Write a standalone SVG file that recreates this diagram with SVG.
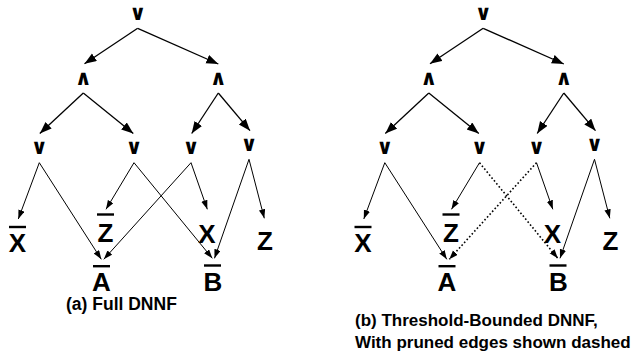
<svg xmlns="http://www.w3.org/2000/svg" width="631" height="356" viewBox="0 0 631 356">
  <style>
    .op { font-family: "DejaVu Sans", sans-serif; font-weight: bold; font-size: 21px; text-anchor: middle; fill: #000; }
    .lit { font-family: "Liberation Sans", Arial, sans-serif; font-weight: bold; font-size: 26px; text-anchor: middle; fill: #000; }
    .bar { stroke: #000; stroke-width: 2.4; }
    .cap { font-family: "Liberation Sans", Arial, sans-serif; font-weight: bold; fill: #000; }
    .e1 { stroke: #000; stroke-width: 1.3; fill: none; marker-end: url(#big); }
    .e2 { stroke: #000; stroke-width: 1; fill: none; marker-end: url(#small); }
    .ed { stroke: #000; stroke-width: 1.6; stroke-dasharray: 1.6 2.2; fill: none; marker-end: url(#small); }
  </style>
  <defs>
    <marker id="big" markerUnits="userSpaceOnUse" markerWidth="13" markerHeight="10" refX="12" refY="4.5" orient="auto">
      <path d="M0,0 L12,4.5 L0,9 z" fill="#000"/>
    </marker>
    <marker id="small" markerUnits="userSpaceOnUse" markerWidth="10" markerHeight="7" refX="9" refY="3.2" orient="auto">
      <path d="M0,0 L9,3.2 L0,6.4 z" fill="#000"/>
    </marker>
  </defs>

  <!-- Panel (a) -->
  <g id="panel-a">
    <g id="a-connectors">
      <line class="e1" x1="137.7" y1="28.3" x2="84.5" y2="63.8"/>
      <line class="e1" x1="137.7" y1="28.3" x2="218.3" y2="64"/>
      <line class="e1" x1="83.3" y1="93" x2="39.8" y2="133.5"/>
      <line class="e1" x1="83.3" y1="93" x2="133.3" y2="133.5"/>
      <line class="e1" x1="218.3" y1="93" x2="191.7" y2="133.5"/>
      <line class="e1" x1="218.3" y1="93" x2="250" y2="130.7"/>
      <line class="e2" x1="39.3" y1="162.7" x2="18.3" y2="219"/>
      <line class="e2" x1="39.3" y1="162.7" x2="101.3" y2="259.3"/>
      <line class="e2" x1="134" y1="162.7" x2="106" y2="209.3"/>
      <line class="e2" x1="134" y1="162.7" x2="212.3" y2="258.3"/>
      <line class="e2" x1="191" y1="162.7" x2="103.8" y2="259.3"/>
      <line class="e2" x1="191" y1="162.7" x2="207.3" y2="209.3"/>
      <line class="e2" x1="249" y1="159.3" x2="214.5" y2="258.3"/>
      <line class="e2" x1="249" y1="159.3" x2="264.3" y2="218.3"/>
    </g>
    <g id="a-root"><text class="op" x="137.7" y="20">∨</text></g>
    <g id="a-and1"><text class="op" x="83.3" y="84.5">∧</text></g>
    <g id="a-and2"><text class="op" x="218.3" y="84.5">∧</text></g>
    <g id="a-or1"><text class="op" x="39.3" y="154">∨</text></g>
    <g id="a-or2"><text class="op" x="134" y="154">∨</text></g>
    <g id="a-or3"><text class="op" x="191" y="154">∨</text></g>
    <g id="a-or4"><text class="op" x="249" y="150.7">∨</text></g>
    <g id="a-notx"><line class="bar" x1="9" y1="227" x2="26" y2="227"/><text class="lit" x="17.5" y="252">X</text></g>
    <g id="a-notz"><line class="bar" x1="97" y1="214.5" x2="114" y2="214.5"/><text class="lit" x="105.5" y="242">Z</text></g>
    <g id="a-x"><text class="lit" x="207" y="243">X</text></g>
    <g id="a-z"><text class="lit" x="265" y="250">Z</text></g>
    <g id="a-nota"><line class="bar" x1="93" y1="266.2" x2="110" y2="266.2"/><text class="lit" x="101.5" y="290.5">A</text></g>
    <g id="a-notb"><line class="bar" x1="204" y1="265.5" x2="221" y2="265.5"/><text class="lit" x="213" y="290.5">B</text></g>
    <text class="cap" x="66" y="310" font-size="17.5">(a) Full DNNF</text>
  </g>

  <!-- Panel (b) -->
  <g id="panel-b" transform="translate(345.5,0)">
    <g id="b-connectors">
      <line class="e1" x1="137.7" y1="28.3" x2="84.5" y2="63.8"/>
      <line class="e1" x1="137.7" y1="28.3" x2="218.3" y2="64"/>
      <line class="e1" x1="83.3" y1="93" x2="39.8" y2="133.5"/>
      <line class="e1" x1="83.3" y1="93" x2="133.3" y2="133.5"/>
      <line class="e1" x1="218.3" y1="93" x2="191.7" y2="133.5"/>
      <line class="e1" x1="218.3" y1="93" x2="250" y2="130.7"/>
      <line class="e2" x1="39.3" y1="162.7" x2="18.3" y2="219"/>
      <line class="e2" x1="39.3" y1="162.7" x2="101.3" y2="259.3"/>
      <line class="e2" x1="134" y1="162.7" x2="106" y2="209.3"/>
      <line class="ed" x1="134" y1="162.7" x2="212.3" y2="258.3"/>
      <line class="ed" x1="191" y1="162.7" x2="103.8" y2="259.3"/>
      <line class="e2" x1="191" y1="162.7" x2="207.3" y2="209.3"/>
      <line class="e2" x1="249" y1="159.3" x2="214.5" y2="258.3"/>
      <line class="e2" x1="249" y1="159.3" x2="264.3" y2="218.3"/>
    </g>
    <g id="b-root"><text class="op" x="137.7" y="20">∨</text></g>
    <g id="b-and1"><text class="op" x="83.3" y="84.5">∧</text></g>
    <g id="b-and2"><text class="op" x="218.3" y="84.5">∧</text></g>
    <g id="b-or1"><text class="op" x="39.3" y="154">∨</text></g>
    <g id="b-or2"><text class="op" x="134" y="154">∨</text></g>
    <g id="b-or3"><text class="op" x="191" y="154">∨</text></g>
    <g id="b-or4"><text class="op" x="249" y="150.7">∨</text></g>
    <g id="b-notx"><line class="bar" x1="9" y1="227" x2="26" y2="227"/><text class="lit" x="17.5" y="252">X</text></g>
    <g id="b-notz"><line class="bar" x1="97" y1="214.5" x2="114" y2="214.5"/><text class="lit" x="105.5" y="242">Z</text></g>
    <g id="b-x"><text class="lit" x="207" y="243">X</text></g>
    <g id="b-z"><text class="lit" x="265" y="250">Z</text></g>
    <g id="b-nota"><line class="bar" x1="93" y1="266.2" x2="110" y2="266.2"/><text class="lit" x="101.5" y="290.5">A</text></g>
    <g id="b-notb"><line class="bar" x1="204" y1="265.5" x2="221" y2="265.5"/><text class="lit" x="213" y="290.5">B</text></g>
  </g>
  <text class="cap" font-size="17" x="355" y="326">(b) Threshold-Bounded DNNF,</text>
  <text class="cap" font-size="17" x="355" y="348">With pruned edges shown dashed</text>
</svg>
